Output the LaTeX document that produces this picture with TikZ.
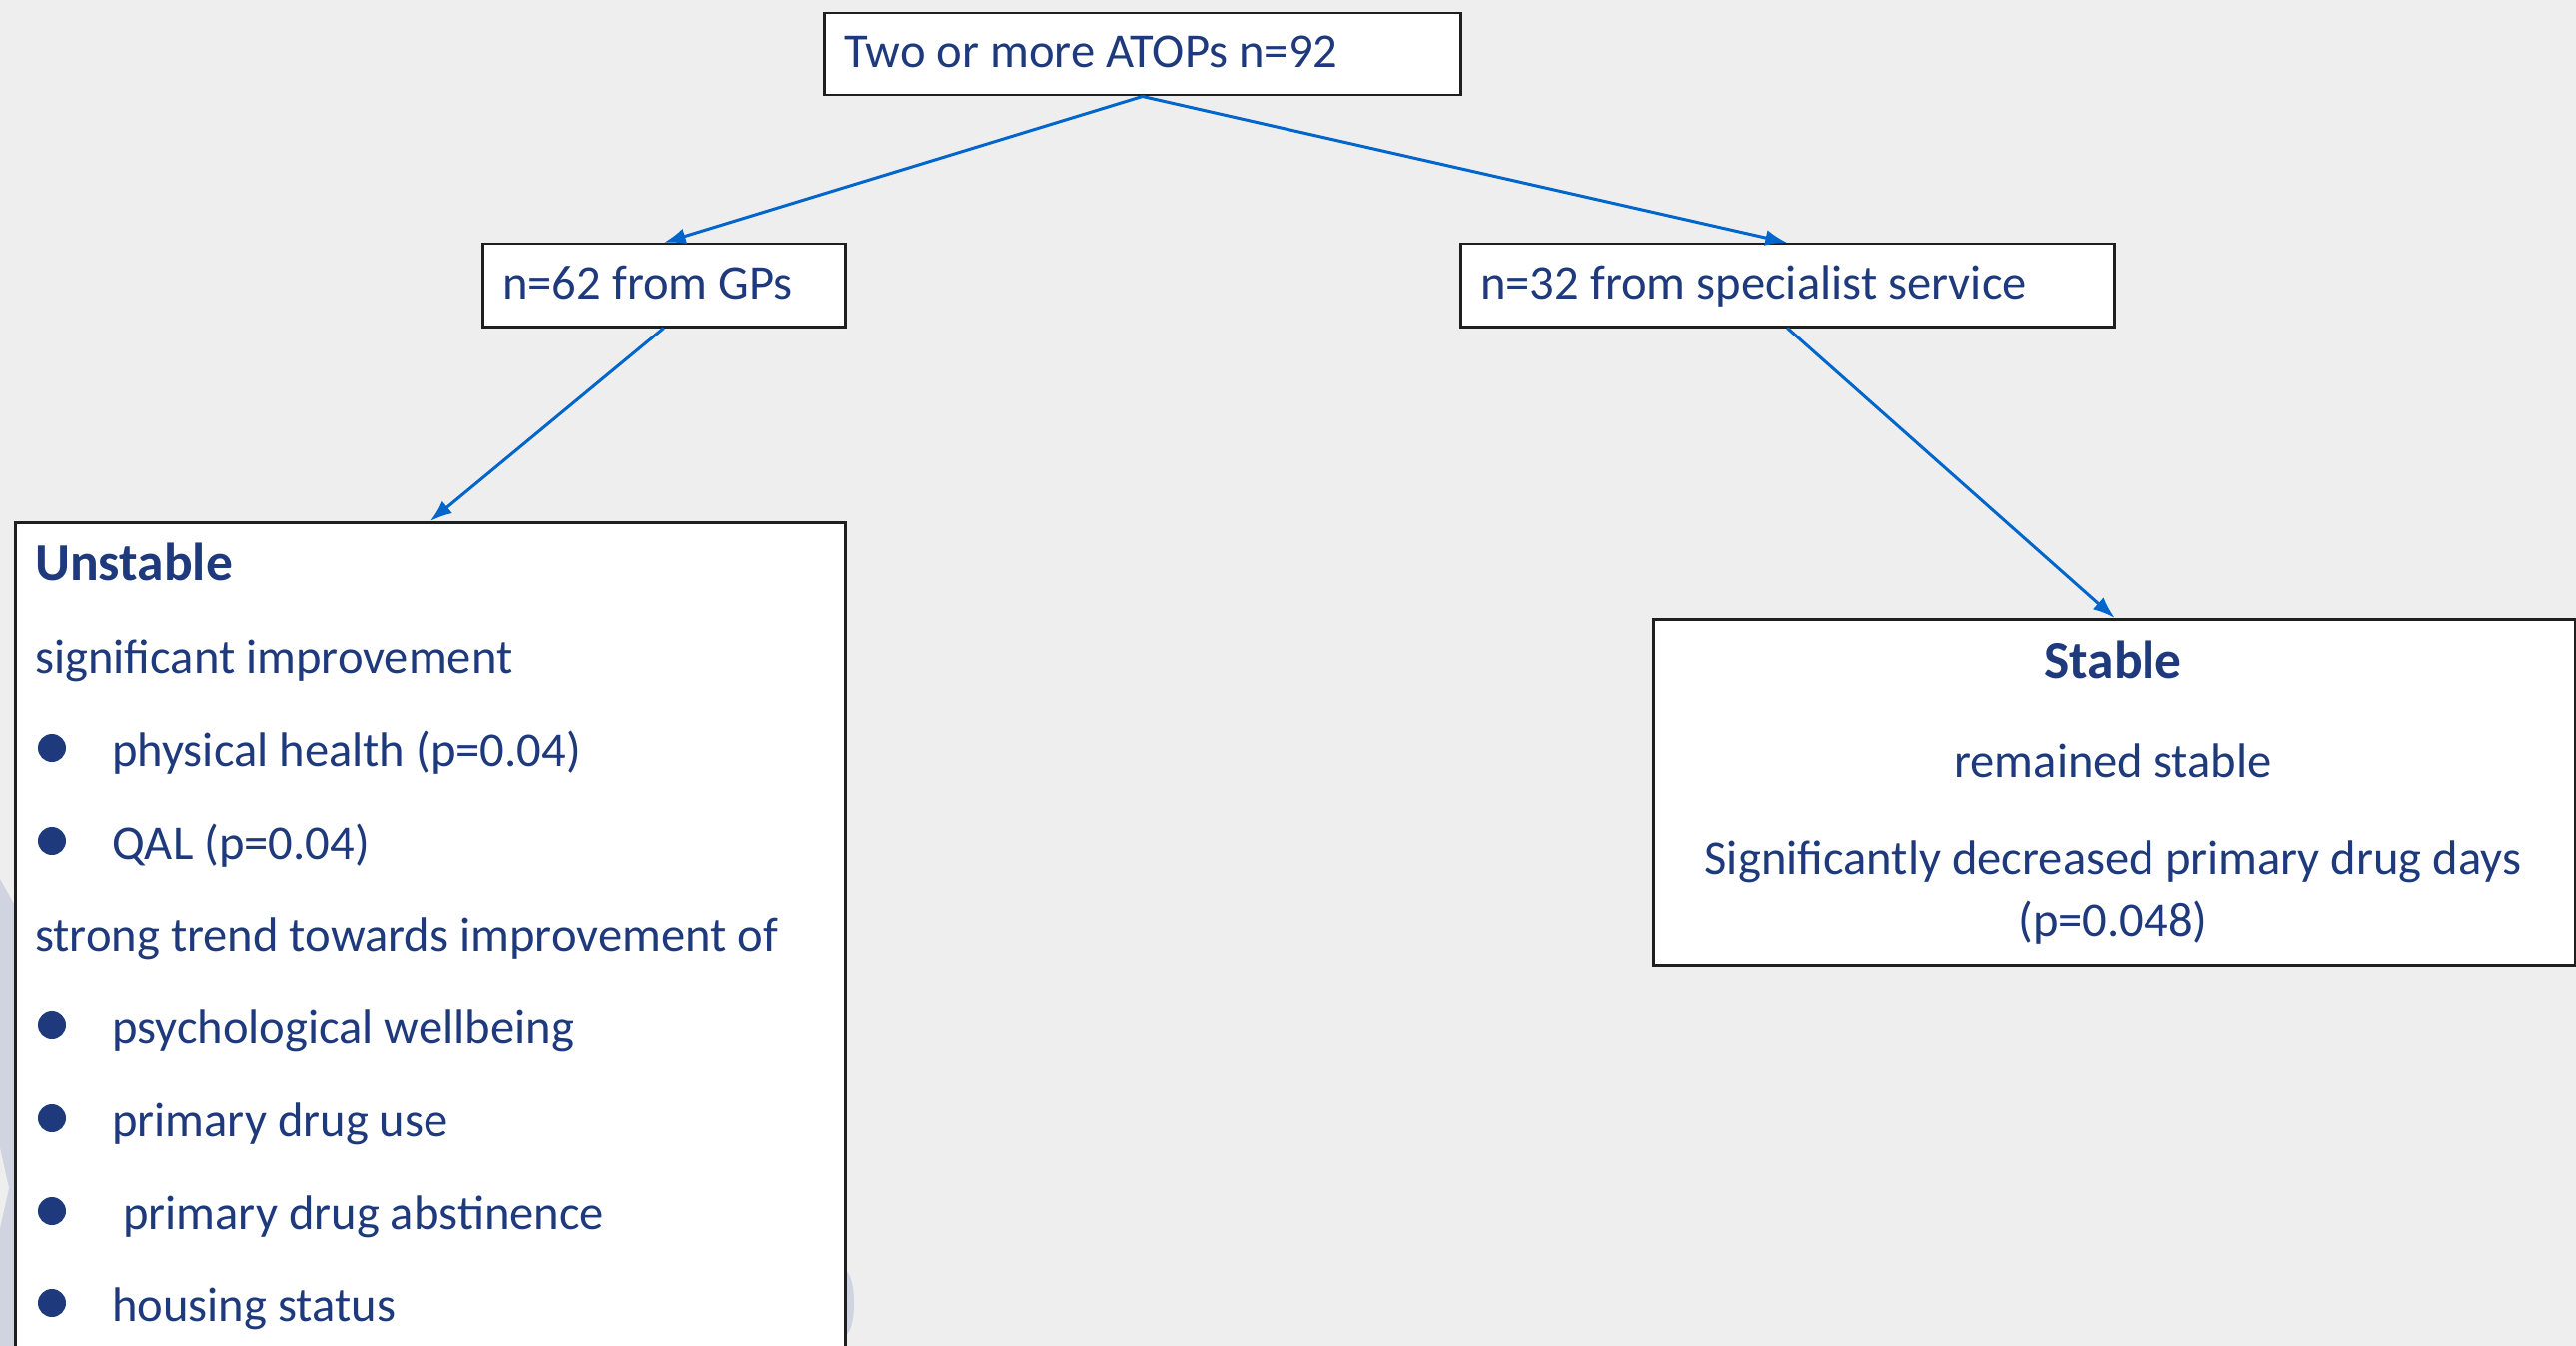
\documentclass[tikz,border=0pt]{standalone}
\usepackage{fontspec}
\setmainfont{Carlito}
\usetikzlibrary{arrows.meta}
\definecolor{bg}{RGB}{238,238,238}
\definecolor{navy}{RGB}{30,58,124}
\definecolor{arrowblue}{RGB}{0,102,204}
\definecolor{wm}{RGB}{207,212,224}
\begin{document}
\begin{tikzpicture}[x=1pt,y=-1pt,
  box/.style={draw=black!88, line width=2.5pt, fill=white, inner sep=0pt, anchor=north west},
  txt/.style={text=navy, font=\fontsize{48.6}{58}\selectfont, inner sep=0pt, anchor=base west},
  btxt/.style={txt, font=\fontsize{53.5}{62}\selectfont\bfseries},
  ctxt/.style={txt, anchor=base},
  cbtxt/.style={btxt, anchor=base},
  arr/.style={draw=arrowblue, line width=3pt, -{Latex[length=22pt,width=16pt]}},
  bul/.style={circle, fill=navy, inner sep=0pt, minimum size=28pt}]
\path[use as bounding box, fill=bg] (0,0) rectangle (2579,1348);
\clip (0,0) rectangle (2579,1348);
% faint watermark remnants
\fill[wm] (0,880) -- (14,905) -- (14,1348) -- (0,1348) -- cycle;
\fill[bg] (0,1150) -- (9,1190) -- (0,1230) -- cycle;
\fill[wm] (846,1305) ellipse [x radius=9pt, y radius=32pt];
% boxes
\node[box, minimum width=637pt, minimum height=82pt] (top) at (824,12) {};
\node[box, minimum width=363pt, minimum height=83pt] (gp) at (482,243) {};
\node[box, minimum width=654pt, minimum height=83pt] (spec) at (1461,243) {};
\node[box, minimum width=831pt, minimum height=900pt] (unst) at (14,522) {};
\node[box, minimum width=923pt, minimum height=346pt] (stab) at (1654,619) {};
% connectors
\draw[arr] (top.south) -- (gp.north);
\draw[arr] (top.south) -- (spec.north);
\draw[arr] (gp.south) -- (unst.north);
\draw[arr] (spec.south) -- (stab.north);
% texts
\node[txt] (ttop) at (845,67.5) {Two or more ATOPs n=92};
\node[txt] (tgp) at (503,299) {n=62 from GPs};
\node[txt] (tspec) at (1482,299) {n=32 from specialist service};
\node[btxt] (tu) at (35,581) {Unstable};
\node[txt] (tsig) at (35,674) {significant improvement};
\node[txt] (tstr) at (35,952) {strong trend towards improvement of};
\node[txt] (i1) at (112,767) {physical health (p=0.04)};
\node[txt] (i2) at (112,860) {QAL (p=0.04)};
\node[txt] (i3) at (112,1045) {psychological wellbeing};
\node[txt] (i4) at (112,1138) {primary drug use};
\node[txt] (i5) at (123,1231) {primary drug abstinence};
\node[txt] (i6) at (112,1323) {housing status};
\node[bul] (b1) at (52,749) {};
\node[bul] (b2) at (52,842) {};
\node[bul] (b3) at (52,1027) {};
\node[bul] (b4) at (52,1120) {};
\node[bul] (b5) at (52,1213) {};
\node[bul] (b6) at (52,1305) {};
\node[cbtxt] (ts) at (2115.5,679) {Stable};
\node[ctxt] (trem) at (2115.5,778) {remained stable};
\node[ctxt] (tdec) at (2115.5,875) {Significantly decreased primary drug days};
\node[ctxt] (tp) at (2115.5,937) {(p=0.048)};
\end{tikzpicture}
\end{document}
